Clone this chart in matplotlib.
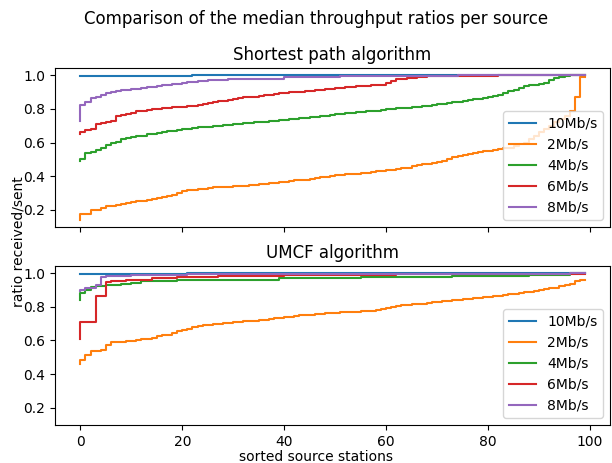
import numpy as np
import matplotlib
matplotlib.use("Agg")
import matplotlib.pyplot as plt

labels = ["10Mb/s", "2Mb/s", "4Mb/s", "6Mb/s", "8Mb/s"]
stations = np.arange(100)

# Shortest path algorithm, sorted median ratios per source
sp_10 = [0.994] * 23 + [1.0] * 77
sp_2 = [0.14, 0.175, 0.175, 0.197, 0.20, 0.21, 0.22, 0.222, 0.228, 0.235,
        0.24, 0.245, 0.25, 0.255, 0.26, 0.262, 0.268, 0.275, 0.28, 0.29,
        0.30, 0.31, 0.315, 0.318, 0.322, 0.326, 0.33, 0.333, 0.335, 0.336,
        0.338, 0.34, 0.342, 0.344, 0.346, 0.35, 0.352, 0.355, 0.358, 0.36,
        0.365, 0.368, 0.372, 0.375, 0.378, 0.38, 0.383, 0.388, 0.392, 0.396,
        0.40, 0.404, 0.407, 0.41, 0.412, 0.415, 0.418, 0.42, 0.424, 0.428,
        0.43, 0.434, 0.438, 0.442, 0.446, 0.45, 0.458, 0.466, 0.47, 0.475,
        0.48, 0.485, 0.49, 0.50, 0.515, 0.52, 0.525, 0.53, 0.54, 0.545,
        0.548, 0.55, 0.555, 0.56, 0.565, 0.57, 0.58, 0.59, 0.60, 0.62,
        0.64, 0.66, 0.68, 0.70, 0.72, 0.74, 0.756, 0.785, 0.87, 0.99]
sp_4 = [0.488, 0.504, 0.54, 0.545, 0.557, 0.565, 0.587, 0.60, 0.605, 0.623,
        0.627, 0.63, 0.637, 0.64, 0.65, 0.653, 0.657, 0.66, 0.667, 0.67,
        0.675, 0.68, 0.683, 0.686, 0.69, 0.693, 0.695, 0.697, 0.70, 0.703,
        0.706, 0.71, 0.713, 0.716, 0.718, 0.72, 0.722, 0.725, 0.727, 0.73,
        0.733, 0.736, 0.739, 0.742, 0.745, 0.747, 0.75, 0.753, 0.756, 0.76,
        0.763, 0.767, 0.77, 0.774, 0.777, 0.78, 0.783, 0.786, 0.788, 0.79,
        0.793, 0.797, 0.80, 0.804, 0.806, 0.808, 0.81, 0.813, 0.816, 0.82,
        0.824, 0.828, 0.832, 0.836, 0.84, 0.843, 0.847, 0.852, 0.856, 0.86,
        0.865, 0.87, 0.875, 0.885, 0.895, 0.905, 0.915, 0.925, 0.935, 0.94,
        0.945, 0.95, 0.955, 0.97, 0.985, 0.99, 0.993, 1.0, 1.0, 1.0]
sp_6 = [0.651, 0.66, 0.673, 0.68, 0.71, 0.715, 0.72, 0.73, 0.756, 0.762,
        0.77, 0.775, 0.786, 0.79, 0.795, 0.80, 0.802, 0.805, 0.807, 0.809,
        0.81, 0.813, 0.816, 0.82, 0.824, 0.83, 0.835, 0.84, 0.845, 0.85,
        0.855, 0.86, 0.865, 0.868, 0.87, 0.873, 0.876, 0.88, 0.884, 0.888,
        0.892, 0.895, 0.898, 0.90, 0.903, 0.906, 0.909, 0.912, 0.915, 0.918,
        0.921, 0.924, 0.927, 0.93, 0.933, 0.935, 0.937, 0.939, 0.941, 0.943,
        0.945, 0.955, 0.968, 0.975, 0.98, 0.983, 0.986, 0.988, 0.99, 0.993] \
       + [0.996] * 13 + [1.0] * 17
sp_8 = [0.73, 0.826, 0.84, 0.865, 0.87, 0.88, 0.895, 0.90, 0.905, 0.91,
        0.915, 0.918, 0.92, 0.925, 0.93, 0.932, 0.935, 0.94, 0.943, 0.946,
        0.95, 0.955, 0.958, 0.962, 0.965, 0.968, 0.97, 0.972, 0.973, 0.974] \
       + [0.976] * 5 + [0.979] * 6 + [0.99] * 11 + [0.996] * 23 + [1.0] * 25

# UMCF algorithm
um_10 = [0.996] * 22 + [1.0] * 78
um_2 = [0.46, 0.486, 0.512, 0.536, 0.54, 0.546, 0.571, 0.589, 0.59, 0.592,
        0.595, 0.598, 0.603, 0.607, 0.611, 0.616, 0.625, 0.63, 0.635, 0.645,
        0.655, 0.662, 0.67, 0.678, 0.685, 0.69, 0.693, 0.696, 0.70, 0.703,
        0.706, 0.709, 0.712, 0.714, 0.716, 0.718, 0.72, 0.724, 0.728, 0.732,
        0.735, 0.738, 0.74, 0.745, 0.75, 0.752, 0.754, 0.756, 0.758, 0.761,
        0.764, 0.766, 0.767, 0.768, 0.769, 0.77, 0.773, 0.776, 0.778, 0.782,
        0.786, 0.793, 0.80, 0.807, 0.81, 0.813, 0.815, 0.817, 0.82, 0.824,
        0.828, 0.831, 0.834, 0.837, 0.84, 0.843, 0.846, 0.849, 0.852, 0.855,
        0.857, 0.86, 0.863, 0.866, 0.87, 0.874, 0.878, 0.882, 0.886, 0.89,
        0.895, 0.90, 0.905, 0.91, 0.915, 0.922, 0.93, 0.935, 0.952, 0.96]
um_4 = [0.843, 0.883, 0.903, 0.917, 0.923, 0.925] + [0.929] * 3 + [0.937] * 2 \
       + [0.942] * 2 + [0.952] * 7 + [0.958] * 11 + [0.962] * 9 \
       + [0.972] * 16 + [0.978] * 18 + [0.985] * 15 + [0.99] * 8 + [1.0] * 3
um_6 = [0.61, 0.708, 0.708, 0.708, 0.863, 0.863, 0.948] + [0.954] * 3 \
       + [0.962] * 5 + [0.972] * 5 + [0.978] * 8 + [0.984] * 13 \
       + [0.992] * 22 + [0.997] * 37
um_8 = [0.897, 0.903, 0.913, 0.913, 0.933, 0.976] + [0.983] * 5 \
       + [0.988] * 11 + [0.993] * 51 + [0.995] * 24 + [1.0] * 3

shortest = [sp_10, sp_2, sp_4, sp_6, sp_8]
umcf = [um_10, um_2, um_4, um_6, um_8]

fig, (ax1, ax2) = plt.subplots(2, 1, sharex=True, sharey=True,
                               figsize=(6.12, 4.63), dpi=100)
fig.subplots_adjust(left=0.09, right=0.997, top=0.853, bottom=0.082,
                    hspace=0.245)

for ax, series, title in [(ax1, shortest, "Shortest path algorithm"),
                          (ax2, umcf, "UMCF algorithm")]:
    for vals, lab in zip(series, labels):
        ax.step(stations, vals, label=lab)
    ax.set_title(title)
    ax.legend(loc="lower right")

fig.suptitle("Comparison of the median throughput ratios per source",
             x=0.516, y=0.978)
fig.text(0.03, 0.479, "ratio received/sent", rotation=90,
         ha="center", va="center")
fig.text(0.516, 0.013, "sorted source stations", ha="center", va="center")

fig.savefig("out.png", dpi=100)
